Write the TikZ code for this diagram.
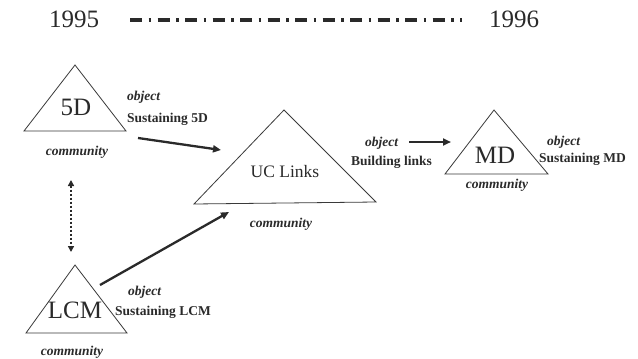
\documentclass[tikz,border=0pt]{standalone}
\usepackage{fontspec}
\setmainfont{Liberation Serif}
\usetikzlibrary{arrows.meta}
\definecolor{ink}{HTML}{2A2A2A}
\definecolor{lineink}{HTML}{3A3A3A}
\tikzset{
  year/.style={anchor=base, inner sep=0pt, text=ink, font=\fontsize{25}{25}\selectfont},
  big/.style={anchor=base, inner sep=0pt, text=ink, font=\fontsize{25}{25}\selectfont},
  mid/.style={anchor=base, inner sep=0pt, text=ink, font=\fontsize{17.5}{17.5}\selectfont},
  obj/.style={anchor=base west, inner sep=0pt, text=ink, font=\fontsize{13.5}{13.5}\selectfont\bfseries\itshape},
  goal/.style={anchor=base west, inner sep=0pt, text=ink, font=\fontsize{13.5}{13.5}\selectfont\bfseries},
  comm/.style={anchor=base, inner sep=0pt, text=ink, font=\fontsize{13.5}{13.5}\selectfont\bfseries\itshape},
  tri/.style={draw=lineink, line width=0.8pt, line join=miter},
  flow/.style={draw=ink, line width=2.3pt, -{Triangle[length=8pt,width=7pt]}},
  link/.style={draw=ink, line width=2pt, dotted, {Triangle[length=6pt,width=6pt]}-{Triangle[length=6pt,width=6pt]}},
  timeline/.style={draw=ink, line width=3.2pt, dash pattern=on 12pt off 6.5pt on 2.5pt off 6.5pt}
}
\begin{document}
\begin{tikzpicture}[x=1pt,y=-1pt]
\useasboundingbox[fill=white] (0,0) rectangle (638,359);

% timeline
\node[year] (y95) at (74,27) {1995};
\node[year] (y96) at (514,27) {1996};
\coordinate (tl1) at (130,20);
\coordinate (tl2) at (462,20);
\draw[timeline] (tl1) -- (tl2);

% 5D
\draw[tri] (75,65) -- (126,131) -- (24,131) -- cycle;
\node[big] (t5d) at (76,115) {5D};
\node[obj] (o5d) at (127,100) {object};
\node[goal] (g5d) at (127,122) {Sustaining 5D};
\node[comm] (c5d) at (77,155) {community};

% UC Links
\draw[tri] (284,110) -- (376,202) -- (194,204) -- cycle;
\node[mid] (tuc) at (285,177) {UC Links};
\node[obj] (ouc) at (365,146) {object};
\node[goal] (guc) at (351,165) {Building links};
\node[comm] (cuc) at (281,227) {community};

% MD
\draw[tri] (494,110) -- (548,174) -- (445,174) -- cycle;
\node[big] (tmd) at (495,163) {MD};
\node[obj] (omd) at (547,145) {object};
\node[goal] (gmd) at (539,162) {Sustaining MD};
\node[comm] (cmd) at (497,188) {community};

% LCM
\draw[tri] (75,265) -- (127,333) -- (26,333) -- cycle;
\node[big] (tlcm) at (75,318) {LCM};
\node[obj] (olcm) at (128,295) {object};
\node[goal] (glcm) at (115,315) {Sustaining LCM};
\node[comm] (clcm) at (72,355) {community};

% connectors
\coordinate (a1s) at (138,138);
\coordinate (a1e) at (221,150);
\draw[flow] (a1s) -- (a1e);

\coordinate (a2s) at (409,142);
\coordinate (a2e) at (451,142);
\draw[flow] (a2s) -- (a2e);

\coordinate (a3s) at (100,285);
\coordinate (a3e) at (229,212);
\draw[flow] (a3s) -- (a3e);

\coordinate (d1) at (71,180);
\coordinate (d2) at (71,252);
\draw[link] (d1) -- (d2);
\end{tikzpicture}
\end{document}
